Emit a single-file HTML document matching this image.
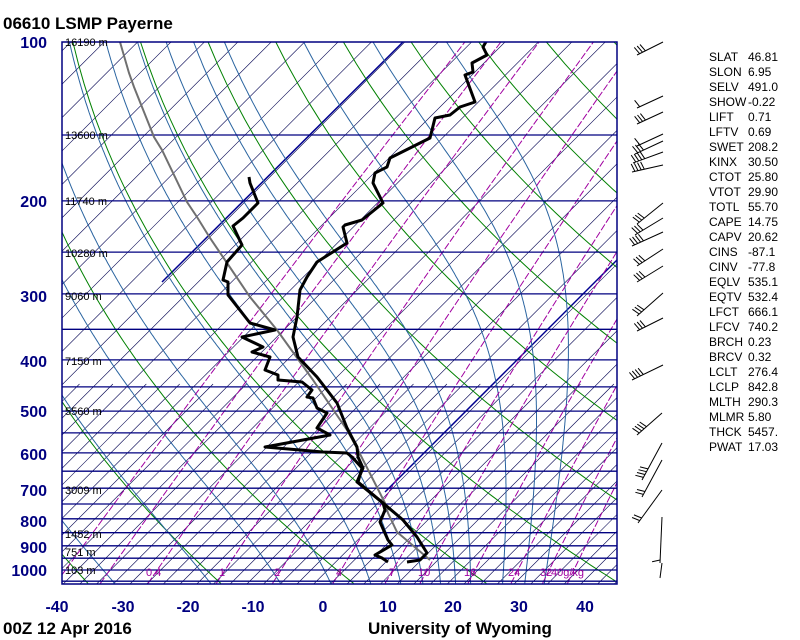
<!DOCTYPE html>
<html><head><meta charset="utf-8">
<style>
html,body{margin:0;padding:0;background:#fff;}
svg{display:block;font-family:"Liberation Sans",sans-serif;}
</style></head>
<body>
<svg id="s" width="800" height="640" viewBox="0 0 800 640" xmlns="http://www.w3.org/2000/svg">
<defs><clipPath id="c"><rect x="62" y="42" width="555" height="542"/></clipPath></defs>
<rect width="800" height="640" fill="#fff"/>
<g id="grid" clip-path="url(#c)"></g>
<g id="data" clip-path="url(#c)"></g>
<rect x="62" y="42" width="555" height="542" fill="none" stroke="#000080" stroke-width="1.5"/>
<g font-size="11" fill="#000">
<text x="65" y="46">16190 m</text>
<text x="65" y="139">13600 m</text>
<text x="65" y="205">11740 m</text>
<text x="65" y="257">10280 m</text>
<text x="65" y="300">9060 m</text>
<text x="65" y="365">7150 m</text>
<text x="65" y="415">5560 m</text>
<text x="65" y="494">3009 m</text>
<text x="65" y="538">1452 m</text>
<text x="65" y="556">751 m</text>
<text x="65" y="574">103 m</text>
</g>
<g font-size="11" fill="#a000a0">
<text x="146" y="576">0.4</text>
<text x="219" y="576">1</text>
<text x="274" y="576">2</text>
<text x="336" y="576">4</text>
<text x="389" y="576">7</text>
<text x="418" y="576">10</text>
<text x="464" y="576">16</text>
<text x="508" y="576">24</text>
<text x="540" y="576">32</text>
<text x="551" y="576">40g/kg</text>
</g>
<g font-size="16" font-weight="bold" fill="#000080" text-anchor="end">
<text x="47" y="48">100</text>
<text x="47" y="207">200</text>
<text x="47" y="302">300</text>
<text x="47" y="367">400</text>
<text x="47" y="417">500</text>
<text x="47" y="460">600</text>
<text x="47" y="496">700</text>
<text x="47" y="527">800</text>
<text x="47" y="553">900</text>
<text x="47" y="576">1000</text>
</g>
<g font-size="16" font-weight="bold" fill="#000080" text-anchor="middle">
<text x="57" y="612">-40</text>
<text x="123" y="612">-30</text>
<text x="188" y="612">-20</text>
<text x="253" y="612">-10</text>
<text x="323" y="612">0</text>
<text x="388" y="612">10</text>
<text x="453" y="612">20</text>
<text x="519" y="612">30</text>
<text x="585" y="612">40</text>
</g>
<text x="3" y="29" font-size="17" font-weight="bold">06610 LSMP Payerne</text>
<text x="3" y="634" font-size="17" font-weight="bold">00Z 12 Apr 2016</text>
<text x="368" y="634" font-size="17" font-weight="bold">University of Wyoming</text>
<g font-size="12" fill="#000">
<text x="709" y="61">SLAT</text><text x="748" y="61">46.81</text>
<text x="709" y="76">SLON</text><text x="748" y="76">6.95</text>
<text x="709" y="91">SELV</text><text x="748" y="91">491.0</text>
<text x="709" y="106">SHOW</text><text x="748" y="106">-0.22</text>
<text x="709" y="121">LIFT</text><text x="748" y="121">0.71</text>
<text x="709" y="136">LFTV</text><text x="748" y="136">0.69</text>
<text x="709" y="151">SWET</text><text x="748" y="151">208.2</text>
<text x="709" y="166">KINX</text><text x="748" y="166">30.50</text>
<text x="709" y="181">CTOT</text><text x="748" y="181">25.80</text>
<text x="709" y="196">VTOT</text><text x="748" y="196">29.90</text>
<text x="709" y="211">TOTL</text><text x="748" y="211">55.70</text>
<text x="709" y="226">CAPE</text><text x="748" y="226">14.75</text>
<text x="709" y="241">CAPV</text><text x="748" y="241">20.62</text>
<text x="709" y="256">CINS</text><text x="748" y="256">-87.1</text>
<text x="709" y="271">CINV</text><text x="748" y="271">-77.8</text>
<text x="709" y="286">EQLV</text><text x="748" y="286">535.1</text>
<text x="709" y="301">EQTV</text><text x="748" y="301">532.4</text>
<text x="709" y="316">LFCT</text><text x="748" y="316">666.1</text>
<text x="709" y="331">LFCV</text><text x="748" y="331">740.2</text>
<text x="709" y="346">BRCH</text><text x="748" y="346">0.23</text>
<text x="709" y="361">BRCV</text><text x="748" y="361">0.32</text>
<text x="709" y="376">LCLT</text><text x="748" y="376">276.4</text>
<text x="709" y="391">LCLP</text><text x="748" y="391">842.8</text>
<text x="709" y="406">MLTH</text><text x="748" y="406">290.3</text>
<text x="709" y="421">MLMR</text><text x="748" y="421">5.80</text>
<text x="709" y="436">THCK</text><text x="748" y="436">5457.</text>
<text x="709" y="451">PWAT</text><text x="748" y="451">17.03</text>
</g>
<g id="barbs" stroke="#000" stroke-width="1" fill="none"></g>
</svg>
<script>
(function(){
var NS="http://www.w3.org/2000/svg";
var G=document.getElementById('grid'),D=document.getElementById('data'),B=document.getElementById('barbs');
function el(par,tag,a){var e=document.createElementNS(NS,tag);for(var k in a)e.setAttribute(k,a[k]);par.appendChild(e);return e;}
function yp(p){return 42+528*Math.log(p/100)/Math.LN10;}
function xt(T,p){return 323+6.53*T+(584-yp(p));}
function pl(par,pts,a){var d='';for(var i=0;i<pts.length;i++)d+=(i?'L':'M')+pts[i][0].toFixed(1)+' '+pts[i][1].toFixed(1);a.d=d;a.fill='none';return el(par,'path',a);}
// isotherm diagonals
for(var c=62-600;c<=620;c+=33.4){
  pl(G,[[c,584],[c+560,24]],{stroke:'#000050','stroke-width':0.6});
  var c2=c+16.7;
  pl(G,[[c2,584],[c2+200,384]],{stroke:'#000050','stroke-width':0.6});
}
// bold navy diagonals
[[162,282,403,42],[385,492,617,260]].forEach(function(l){
  pl(G,[[l[0],l[1]],[l[2],l[3]]],{stroke:'#000090','stroke-width':1.5});
});
// dry adiabats
for(var th=213.15;th<=560;th+=20){
  var pts=[];for(var p=1060;p>=95;p-=10){var T=th*Math.pow(p/1000,0.2857)-273.15;pts.push([xt(T,p),yp(p)]);}
  pl(G,pts,{stroke:'#008000','stroke-width':1});
}
// moist adiabats
function es(Tc){return 6.112*Math.exp(17.67*Tc/(Tc+243.5));}
[-32,-17.3,-6.6,1.1,7.2,11.8,15.2,17.9,20.2,22.5,27.4,30.8,33.8].forEach(function(T0){
  var T=T0+273.15,p=1060,pts=[];
  while(p>=95){
    pts.push([xt(T-273.15,p),yp(p)]);
    var e=es(T-273.15),rs=0.622*e/(p-e),Lv=2.5e6,Rd=287,cp=1004;
    var dTdp=((Rd*T+Lv*rs)/p)/(cp+Lv*Lv*rs*0.622/(Rd*T*T));
    var dp=-2;T+=dTdp*dp;p+=dp;
  }
  pl(G,pts,{stroke:'#2a64a0','stroke-width':1});
});
// mixing ratio
[0.1,0.2,0.4,1,2,4,7,10,16,24,32,40].forEach(function(w){
  w/=1000;var pts=[];
  for(var p=1060;p>=95;p-=10){var e=w*p/(0.622+w),l=Math.log(e/6.112),Td=243.5*l/(17.67-l);pts.push([xt(Td,p),yp(p)]);}
  pl(G,pts,{stroke:'#a000a0','stroke-width':1,'stroke-dasharray':'7,2'});
});
// isobars
for(var p=150;p<=1050;p+=50){var y=yp(p);pl(G,[[62,y],[617,y]],{stroke:'#000080','stroke-width':1.3});}
// parcel
pl(D,[[120,42],[129,73],[134,87],[142,107],[154,137],[162,150],[187,202],[197,217],[210,238],[225,260],[250,297],[277,330],[313,380],[347,430],[358,450],[385,503],[388,513],[397,532],[430,560]],{stroke:'#707070','stroke-width':2});
// temperature
pl(D,[[487,40],[483,47],[487,55],[472,63],[473,72],[465,75],[475,102],[460,107],[450,115],[435,118],[430,138],[390,158],[387,167],[375,173],[373,183],[383,203],[362,220],[345,225],[343,227],[347,243],[317,262],[307,277],[300,290],[297,317],[293,337],[298,357],[317,377],[337,403],[347,428],[357,447],[358,457],[363,468],[357,482],[383,503],[403,520],[417,537],[427,553],[420,560],[407,562]],{stroke:'#000','stroke-width':3,'stroke-linejoin':'round'});
// dewpoint
pl(D,[[249,177],[250,183],[258,203],[243,218],[233,226],[242,245],[227,262],[223,280],[228,282],[228,295],[250,323],[275,330],[242,337],[263,347],[252,352],[270,357],[265,370],[278,375],[278,380],[302,382],[312,390],[307,397],[313,398],[317,408],[327,413],[317,428],[330,435],[265,447],[323,452],[347,453],[352,457],[362,468],[358,482],[383,503],[385,510],[380,522],[388,540],[392,545],[375,555],[382,558],[388,562]],{stroke:'#000','stroke-width':3,'stroke-linejoin':'round'});
// barbs
[[637,55,663,42,3],[637,108,663,96,1],[637,124,663,112,3],[637,146,663,134,1],[635,154,663,141,3],[633,163,663,152,4],[632,172,663,165,4],
 [637,224,663,203,3],[635,235,663,218,3],[632,246,663,232,4],[637,266,663,249,3],[637,282,663,266,3],[637,316,663,293,3],[637,331,663,318,3],
 [632,380,663,365,4],[637,435,662,413,4],[642,480,662,443,4],[642,497,662,460,2],[638,523,662,490,2],[660,563,662,517,1],[660,578,662,563,0]].forEach(function(b){
  pl(B,[[b[0],b[1]],[b[2],b[3]]],{});
  var dx=b[2]-b[0],dy=b[3]-b[1],L=Math.sqrt(dx*dx+dy*dy),ux=dx/L,uy=dy/L;
  var nx=uy,ny=-ux; if(ny>0){nx=-nx;ny=-ny;}
  for(var i=0;i<b[4];i++){var px=b[0]+ux*(3+i*3.2),py=b[1]+uy*(3+i*3.2);
    pl(B,[[px,py],[px+nx*8-ux*2,py+ny*8-uy*2]],{});}
});
})();
</script>
</body></html>
